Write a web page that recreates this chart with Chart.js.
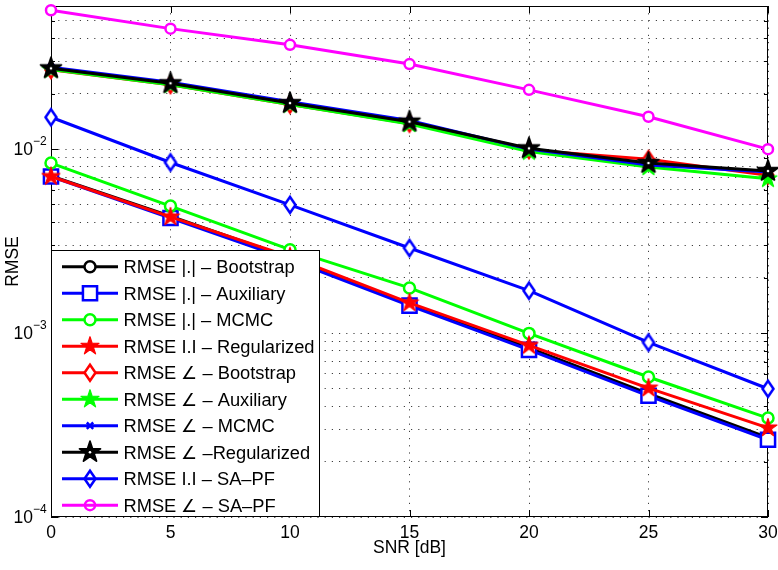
<!DOCTYPE html>
<html><head><meta charset="utf-8">
<script src="https://cdn.jsdelivr.net/npm/chart.js@4/dist/chart.umd.min.js"></script>
<style>html,body{margin:0;padding:0;background:#fff}#wrap{width:778px;height:570px;position:relative}</style>
</head><body><div id="wrap"><canvas id="c" width="778" height="570"></canvas></div>
<script>
// ---------------- data ----------------
const snr = [0, 5, 10, 15, 20, 25, 30];
const rmseMagBootstrap   = [0.00715, 0.00432, 0.00256, 0.00144, 0.00083, 0.000468, 0.000270];
const rmseMagAuxiliary   = [0.00710, 0.00422, 0.00250, 0.00141, 0.00081, 0.000456, 0.000263];
const rmseMagMCMC        = [0.00840, 0.00490, 0.00284, 0.00176, 0.000996, 0.000577, 0.000345];
const rmseMagRegularized = [0.00710, 0.00428, 0.00260, 0.00146, 0.000857, 0.000502, 0.000305];
const rmseAngBootstrap   = [0.0270, 0.0224, 0.0175, 0.0138, 0.0099, 0.0088, 0.0072];
const rmseAngAuxiliary   = [0.0271, 0.0224, 0.0175, 0.0137, 0.0097, 0.0080, 0.0069];
const rmseAngMCMC        = [0.0279, 0.0231, 0.0181, 0.0143, 0.0100, 0.0082, 0.0075];
const rmseAngRegularized = [0.0275, 0.0228, 0.0178, 0.0141, 0.0101, 0.0084, 0.0076];
const rmseMagSAPF        = [0.0149, 0.00846, 0.00498, 0.00290, 0.00170, 0.000889, 0.000498];
const rmseAngSAPF        = [0.0569, 0.0452, 0.0369, 0.0290, 0.0210, 0.0150, 0.0100];

const seriesLabels = [
  'RMSE |.| – Bootstrap', 'RMSE |.| – Auxiliary', 'RMSE |.| – MCMC', 'RMSE I.I – Regularized',
  'RMSE ∠ – Bootstrap', 'RMSE ∠ – Auxiliary', 'RMSE ∠ – MCMC', 'RMSE ∠ –Regularized',
  'RMSE I.I – SA–PF', 'RMSE ∠ – SA–PF'
];
const seriesData = [rmseMagBootstrap, rmseMagAuxiliary, rmseMagMCMC, rmseMagRegularized,
  rmseAngBootstrap, rmseAngAuxiliary, rmseAngMCMC, rmseAngRegularized, rmseMagSAPF, rmseAngSAPF];
const xTickValues = [0, 5, 10, 15, 20, 25, 30];
const yDecades = [1e-4, 1e-3, 1e-2];
const yDecadeExponents = [-4, -3, -2];
const yMultipliers = [1, 2, 3, 4, 5, 6, 7, 8, 9];
const xTitle = 'SNR [dB]';
const yTitle = 'RMSE';

// ---------------- styles ----------------
const FONT = "'Liberation Sans', Arial, Helvetica, sans-serif";
const seriesColors = ['#000000', '#0000ff', '#00ff00', '#ff0000', '#ff0000', '#00ff00', '#0000ff', '#000000', '#0000ff', '#ff00ff'];
const seriesMarkers = ['circle', 'square', 'circle', 'star', 'diamond', 'star', 'x', 'starBig', 'diamond', 'circleSmall'];
const legendUnfilled = [false, false, false, false, false, false, false, false, true, true];

function starPath(g, cx, cy, R) {
  const r = R * 0.382;
  g.beginPath();
  for (let k = 0; k < 10; k++) {
    const rad = k % 2 === 0 ? R : r;
    const a = -Math.PI / 2 + k * Math.PI / 5;
    const px = cx + rad * Math.cos(a), py = cy + rad * Math.sin(a);
    if (k) g.lineTo(px, py); else g.moveTo(px, py);
  }
  g.closePath();
}
function drawMarker(g, kind, color, x, y, filled) {
  g.save();
  g.strokeStyle = color; g.fillStyle = '#ffffff'; g.lineJoin = 'round'; g.setLineDash([]);
  if (kind === 'circle' || kind === 'circleSmall') {
    g.beginPath(); g.arc(x, y, kind === 'circle' ? 5.5 : 5, 0, Math.PI * 2);
    if (filled) g.fill(); g.lineWidth = 2.5; g.stroke();
  } else if (kind === 'square') {
    g.beginPath(); g.rect(x - 7.07, y - 7.07, 14.14, 14.14);
    if (filled) g.fill(); g.lineWidth = 2.5; g.lineJoin = 'miter'; g.stroke();
  } else if (kind === 'x') {
    g.beginPath(); g.moveTo(x - 3.2, y - 3.2); g.lineTo(x + 3.2, y + 3.2);
    g.moveTo(x - 3.2, y + 3.2); g.lineTo(x + 3.2, y - 3.2); g.lineWidth = 2.5; g.stroke();
  } else if (kind === 'diamond') {
    g.beginPath(); g.moveTo(x, y - 8); g.lineTo(x + 5.5, y); g.lineTo(x, y + 8); g.lineTo(x - 5.5, y); g.closePath();
    if (filled) g.fill(); g.lineWidth = 2.5; g.lineJoin = 'miter'; g.stroke();
  } else if (kind === 'star') {
    starPath(g, x, y, 9.5); g.fillStyle = color; g.fill(); g.lineWidth = 1.2; g.stroke();
  } else if (kind === 'starBig') {
    starPath(g, x, y, 11); g.fillStyle = color; g.fill(); g.lineWidth = 1.8; g.stroke();
    g.beginPath(); g.arc(x, y, 1.3, 0, Math.PI * 2); g.fillStyle = '#ffffff'; g.fill();
  }
  g.restore();
}
function markerCanvas(kind, color) {
  const S = 28, cv = document.createElement('canvas');
  cv.width = S; cv.height = S;
  drawMarker(cv.getContext('2d'), kind, color, S / 2, S / 2, true);
  return cv;
}
function pointOpts(kind, color) {
  if (kind === 'circle') return {pointStyle: 'circle', pointRadius: 5.5, pointBorderWidth: 2.5};
  if (kind === 'circleSmall') return {pointStyle: 'circle', pointRadius: 5, pointBorderWidth: 2.5};
  if (kind === 'square') return {pointStyle: 'rect', pointRadius: 10, pointBorderWidth: 2.5};
  if (kind === 'x') return {pointStyle: 'crossRot', pointRadius: 4.5, pointBorderWidth: 2.5};
  return {pointStyle: markerCanvas(kind, color), pointRadius: 9, pointBorderWidth: 0};
}

const N = seriesData.length;
const datasets = seriesData.map((arr, i) => Object.assign({
  label: seriesLabels[i],
  data: snr.map((x, j) => ({x: x, y: arr[j]})),
  borderColor: seriesColors[i],
  backgroundColor: '#ffffff',
  pointBackgroundColor: '#ffffff',
  pointBorderColor: seriesColors[i],
  borderWidth: 3,
  borderJoinStyle: 'round',
  borderCapStyle: 'round',
  tension: 0,
  clip: false,
  order: N - i
}, pointOpts(seriesMarkers[i], seriesColors[i])));

const yTickValues = [];
yDecades.forEach(d => yMultipliers.forEach(m => { const v = +(d * m).toPrecision(3); if (v <= 0.06) yTickValues.push(v); }));
yTickValues.push(0.06);

const GRID_COLOR = 'rgba(0,0,0,0.75)';

const framePlugin = {
  id: 'frame',
  beforeDatasetsDraw(chart) {
    const {ctx, chartArea: a, scales: {x, y}} = chart;
    ctx.save();
    ctx.strokeStyle = '#000'; ctx.lineWidth = 1; ctx.setLineDash([]);
    ctx.strokeRect(a.left + 0.5, a.top + 0.5, a.right - a.left - 1, a.bottom - a.top - 1);
    ctx.beginPath();
    xTickValues.forEach(v => {
      const px = Math.round(x.getPixelForValue(v)) + 0.5;
      ctx.moveTo(px, a.bottom); ctx.lineTo(px, a.bottom - 7);
      ctx.moveTo(px, a.top); ctx.lineTo(px, a.top + 7);
    });
    yTickValues.forEach(v => {
      const py = Math.round(y.getPixelForValue(v)) + 0.5;
      const isMajor = yDecades.some(d => Math.abs(d - v) / d < 1e-6);
      const L = isMajor ? 7 : 4;
      ctx.moveTo(a.left, py); ctx.lineTo(a.left + L, py);
      ctx.moveTo(a.right, py); ctx.lineTo(a.right - L, py);
    });
    ctx.stroke();
    ctx.restore();
  },
  afterDraw(chart) {
    const {ctx, chartArea: a, scales: {y}} = chart;
    ctx.save();
    ctx.fillStyle = '#000';
    // y tick labels 10^n
    yDecades.forEach((d, i) => {
      const py = y.getPixelForValue(d);
      ctx.font = '17.5px ' + FONT; ctx.textAlign = 'right'; ctx.textBaseline = 'alphabetic';
      ctx.fillText('10', 33, py + 6);
      ctx.font = '12px ' + FONT; ctx.textAlign = 'left';
      ctx.fillText('−' + Math.abs(yDecadeExponents[i]), 33, py - 4);
    });
    // legend
    const L = {left: a.left, top: 250, right: 320, bottom: a.bottom};
    ctx.fillStyle = '#fff';
    ctx.fillRect(L.left, L.top, L.right - L.left, L.bottom - L.top);
    ctx.strokeStyle = '#000'; ctx.lineWidth = 1;
    ctx.strokeRect(L.left + 0.5, L.top + 0.5, L.right - L.left - 1, L.bottom - L.top - 1);
    seriesLabels.forEach((lab, i) => {
      const yy = 266.7 + i * 26.5;
      ctx.beginPath(); ctx.strokeStyle = seriesColors[i]; ctx.lineWidth = 3; ctx.lineCap = 'butt';
      ctx.moveTo(62, yy); ctx.lineTo(118, yy); ctx.stroke();
      drawMarker(ctx, seriesMarkers[i], seriesColors[i], 90, yy, !legendUnfilled[i]);
      ctx.fillStyle = '#000'; ctx.font = '18.3px ' + FONT; ctx.textAlign = 'left'; ctx.textBaseline = 'alphabetic';
      ctx.fillText(lab, 123.5, yy + 6.5);
    });
    ctx.restore();
  }
};

new Chart(document.getElementById('c'), {
  type: 'line',
  data: {datasets: datasets},
  options: {
    responsive: false,
    animation: false,
    events: [],
    layout: {padding: {left: 0, top: 6, right: 10, bottom: 0}, autoPadding: false},
    plugins: {legend: {display: false}, tooltip: {enabled: false}},
    scales: {
      x: {
        type: 'linear', min: 0, max: 30, offset: false,
        afterBuildTicks: s => { s.ticks = xTickValues.map(v => ({value: v})); },
        afterFit: s => { s.height = 53; s.paddingLeft = 0; s.paddingRight = 0; },
        ticks: {font: {family: FONT, size: 17.5}, color: '#000', padding: 6, maxRotation: 0, autoSkip: false},
        grid: {color: GRID_COLOR, lineWidth: 1, drawTicks: false},
        border: {display: false, dash: [1.2, 6]},
        title: {display: true, text: xTitle, font: {family: FONT, size: 17.5}, color: '#000', padding: {top: 11, bottom: 11}}
      },
      y: {
        type: 'logarithmic', min: 1e-4, max: 0.06,
        afterBuildTicks: s => { s.ticks = yTickValues.map(v => ({value: v})); },
        afterFit: s => { s.width = 51; s.paddingTop = 0; s.paddingBottom = 0; },
        ticks: {display: false},
        grid: {color: GRID_COLOR, lineWidth: 1, drawTicks: false},
        border: {display: false, dash: [1.2, 6]},
        title: {display: true, text: yTitle, font: {family: FONT, size: 17.5}, color: '#000', padding: {top: 3, bottom: 3}}
      }
    }
  },
  plugins: [framePlugin]
});
</script>
</body></html>
